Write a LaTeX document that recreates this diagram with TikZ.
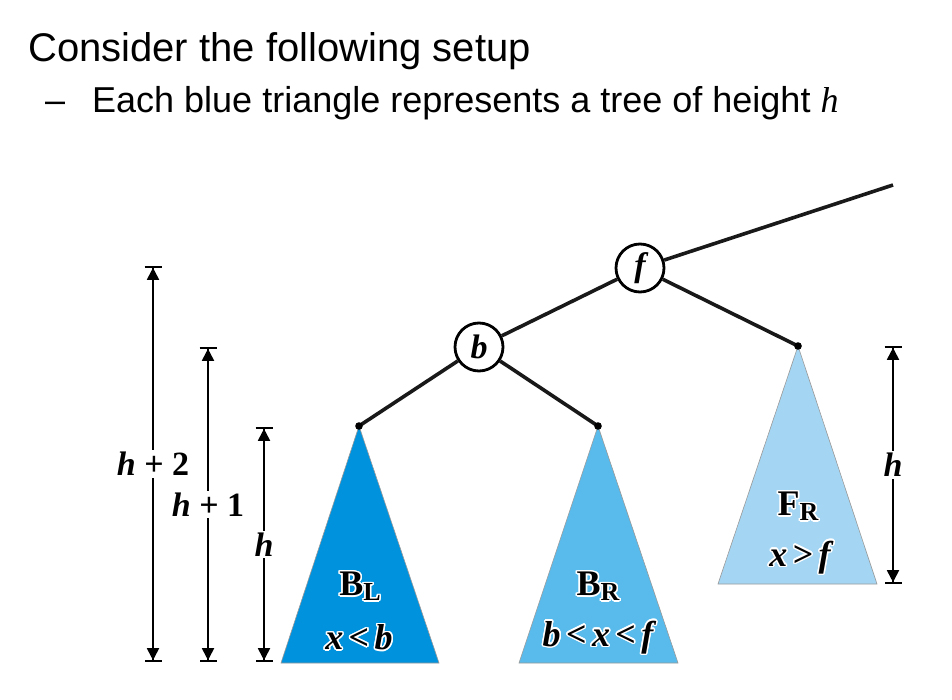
\documentclass[tikz,border=0pt]{standalone}
\usepackage{fontspec}
\setmainfont{Liberation Serif}
\newfontfamily\slidefont{Liberation Sans}
\usepackage[copies]{contour}
\contourlength{1.5pt}
\usetikzlibrary{arrows.meta}
\definecolor{blDark}{RGB}{0,146,221}
\definecolor{blMid}{RGB}{88,187,236}
\definecolor{blLight}{RGB}{164,214,243}
\tikzset{
  edge/.style={line width=3.6pt, black!90},
  keynode/.style={circle, draw, line width=2.8pt, fill=white, minimum size=48pt, inner sep=0pt,
    font=\fontsize{34}{34}\selectfont\bfseries\itshape},
  subtree/.style={draw=gray!80, line width=0.6pt},
  dimn/.style={{Bar[width=17pt,sep=0pt]Triangle[length=12pt,width=12pt,sep=0pt]}-{Triangle[length=12pt,width=12pt,sep=0pt]Bar[width=17pt,sep=0pt]},
    line width=1.8pt},
  dimlbl/.style={fill=white, inner sep=2pt, font=\fontsize{34}{34}\selectfont\bfseries},
  lbl/.style={font=\fontsize{36}{36}\selectfont\bfseries},
  slide/.style={anchor=base west, inner sep=0pt, font=\slidefont\fontsize{36}{40}\selectfont},
}
\newcommand{\trname}[2]{\contour{white}{#1\raisebox{-5pt}{\fontsize{26}{26}\selectfont #2}}}
\newcommand{\lt}{\hspace{0.15em}\textup{<}\hspace{0.15em}}
\newcommand{\gt}{\hspace{0.15em}\textup{>}\hspace{0.15em}}

\begin{document}
\begin{tikzpicture}[x=1pt, y=-1pt]
  \useasboundingbox[fill=white] (0,0) rectangle (952,700);

  % slide text
  \node[slide, font=\slidefont\fontsize{40}{48}\selectfont] (title) at (28,62) {Consider the following setup};
  \node[slide] (dash) at (45,113) {–};
  \node[slide] (point) at (92,113) {Each blue triangle represents a tree of height {\rmfamily\itshape h}};

  % tree
  \coordinate (top) at (893,185);
  \coordinate (bl) at (359,426);
  \coordinate (br) at (598,426);
  \coordinate (fr) at (798,346);

  \filldraw[subtree, fill=blDark] (bl) -- (281,663) -- (439,663) -- cycle;
  \filldraw[subtree, fill=blMid] (br) -- (519,663) -- (678,663) -- cycle;
  \filldraw[subtree, fill=blLight] (fr) -- (718,584) -- (877,584) -- cycle;

  \node[keynode] (f) at (640,268) {f};
  \node[keynode] (b) at (479,347) {b};
  \draw[edge] (f) -- (top);
  \draw[edge] (f) -- (b);
  \draw[edge] (f) -- (fr);
  \draw[edge] (b) -- (bl);
  \draw[edge] (b) -- (br);
  \fill (bl) circle (3.8pt) (br) circle (3.8pt) (fr) circle (3.8pt);

  \node[lbl] (blname) at (360,587) {\trname{B}{L}};
  \node[lbl] (brname) at (598,587) {\trname{B}{R}};
  \node[lbl] (frname) at (798,507) {\trname{F}{R}};
  \node[lbl] (blkey) at (359,638) {\contour{white}{\itshape x\lt b}};
  \node[lbl] (brkey) at (598,638) {\contour{white}{\itshape b\lt x\lt f}};
  \node[lbl] (frkey) at (800,558) {\contour{white}{\itshape x\gt f}};

  % heights
  \coordinate (d2t) at (153,266);
  \coordinate (d2b) at (153,662);
  \coordinate (d1t) at (208,347);
  \coordinate (d1b) at (208,662);
  \coordinate (d0t) at (264,427);
  \coordinate (d0b) at (264,662);
  \coordinate (dft) at (893,346);
  \coordinate (dfb) at (893,584);
  \draw[dimn] (d2t) -- node[dimlbl] {\itshape h\hspace{0.25em}\textup{+}\hspace{0.25em}\textup{2}} (d2b);
  \draw[dimn] (d1t) -- node[dimlbl] {\itshape h\hspace{0.25em}\textup{+}\hspace{0.25em}\textup{1}} (d1b);
  \draw[dimn] (d0t) -- node[dimlbl] {\itshape h} (d0b);
  \draw[dimn] (dft) -- node[dimlbl] {\itshape h} (dfb);
\end{tikzpicture}
\end{document}
